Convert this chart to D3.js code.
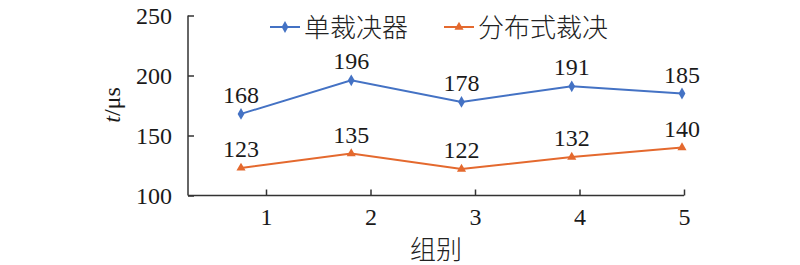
<!DOCTYPE html>
<html>
<head>
<meta charset="utf-8">
<script src="https://cdn.jsdelivr.net/npm/d3@7"></script>
<style>
  body { margin: 0; background: #fff; }
</style>
</head>
<body>
<script>
// line chart: arbitration time per group, single vs distributed arbiter

const groups = ["1", "2", "3", "4", "5"];
const singleVals = [168, 196, 178, 191, 185];
const distVals = [123, 135, 122, 132, 140];
const seriesNames = ["单裁决器", "分布式裁决"];
const yTicks = [100, 150, 200, 250];

const width = 800,
      height = 265;

const blue = "#4472c4",
      orange = "#e4692e",
      axisColor = "#333";

// serif style for numbers (Liberation Serif only picked up at 24px here)
function numStyle(sel){
    sel.style("font-family", "'Liberation Serif'")
	.style("font-size", "24px")
	.attr("fill", "#1a1a1a");
}

function cjkStyle(sel){
    sel.style("font-family", "'Noto Sans CJK SC'")
	.style("font-size", "26px")
	.style("font-weight", 300)
	.attr("fill", "#222");
}

const svg = d3.select("body").append("svg")
    .attr("width", width)
    .attr("height", height);

const y = d3.scaleLinear()
    .domain([100, 250])
    .range([195.5, 15.5]);

// points sit a bit left of the tick marks in the original
const xPoint = d3.scalePoint()
    .domain(groups)
    .range([241, 682]);

const xTick = d3.scalePoint()
    .domain(groups)
    .range([266, 684]);

const axisLeftX = 188;

// y axis, ticks pointing inwards
const yAxis = d3.axisLeft(y)
    .tickValues(yTicks)
    .tickSizeInner(-6)
    .tickSizeOuter(0)
    .tickPadding(16);

const gy = svg.append("g")
    .attr("transform", "translate(" + axisLeftX + ",0)")
    .call(yAxis)
    .attr("font-family", "Liberation Serif")
    .attr("font-size", 24)
    .call(numStyle);
gy.select(".domain").remove();
gy.selectAll("line").attr("stroke", axisColor).attr("stroke-width", 1.5);
gy.selectAll("text").call(numStyle);

svg.append("line")
    .attr("x1", axisLeftX).attr("x2", axisLeftX)
    .attr("y1", y(250)).attr("y2", y(100))
    .attr("stroke", axisColor).attr("stroke-width", 1.5);

// x axis
const xAxis = d3.axisBottom(xTick)
    .tickSizeInner(-6)
    .tickSizeOuter(0)
    .tickPadding(12);

const gx = svg.append("g")
    .attr("transform", "translate(0," + y(100) + ")")
    .call(xAxis)
    .attr("font-family", "Liberation Serif")
    .attr("font-size", 24)
    .call(numStyle);
gx.select(".domain").remove();
gx.selectAll("line").attr("stroke", axisColor).attr("stroke-width", 1.5);
gx.selectAll("text").call(numStyle);

svg.append("line")
    .attr("x1", axisLeftX).attr("x2", xTick("5"))
    .attr("y1", y(100)).attr("y2", y(100))
    .attr("stroke", axisColor).attr("stroke-width", 1.5);

// axis titles
svg.append("text")
    .call(cjkStyle)
    .attr("x", 436)
    .attr("y", 259)
    .attr("text-anchor", "middle")
    .text("组别");

const ylab = svg.append("text")
    .call(numStyle)
    .attr("transform", "translate(120,105) rotate(-90)")
    .attr("text-anchor", "middle");
ylab.append("tspan").style("font-style", "italic").text("t");
ylab.append("tspan").text("/μs");

// series
const line = d3.line()
    .x((d, i) => xPoint(groups[i]))
    .y(d => y(d));

const series = [
    { name: seriesNames[0], values: singleVals, color: blue, symbol: d3.symbolDiamond, size: 40 },
    { name: seriesNames[1], values: distVals, color: orange, symbol: d3.symbolTriangle, size: 36 }
];

series.forEach(function(s){
    const g = svg.append("g");

    g.append("path")
	.datum(s.values)
	.attr("fill", "none")
	.attr("stroke", s.color)
	.attr("stroke-width", 2)
	.attr("d", line);

    g.selectAll("path.mark")
	.data(s.values)
	.enter()
	.append("path")
	.classed("mark", true)
	.attr("transform", (d, i) => "translate(" + xPoint(groups[i]) + "," + y(d) + ")")
	.attr("d", d3.symbol().type(s.symbol).size(s.size))
	.attr("fill", s.color);

    g.selectAll("text")
	.data(s.values)
	.enter()
	.append("text")
	.call(numStyle)
	.attr("x", (d, i) => xPoint(groups[i]))
	.attr("y", d => y(d) - 11)
	.attr("text-anchor", "middle")
	.text(d => d);
});

// legend
const legendItems = [
    { x: 270, color: blue, symbol: d3.symbolDiamond, size: 40 },
    { x: 444, color: orange, symbol: d3.symbolTriangle, size: 36 }
];

legendItems.forEach(function(l, i){
    const g = svg.append("g").attr("transform", "translate(" + l.x + ",27)");
    g.append("line")
	.attr("x1", 0).attr("x2", 30)
	.attr("stroke", l.color).attr("stroke-width", 2);
    g.append("path")
	.attr("transform", "translate(15,0)")
	.attr("d", d3.symbol().type(l.symbol).size(l.size))
	.attr("fill", l.color);
    g.append("text")
	.call(cjkStyle)
	.attr("x", 34)
	.attr("y", 10)
	.text(seriesNames[i]);
});
</script>
</body>
</html>
